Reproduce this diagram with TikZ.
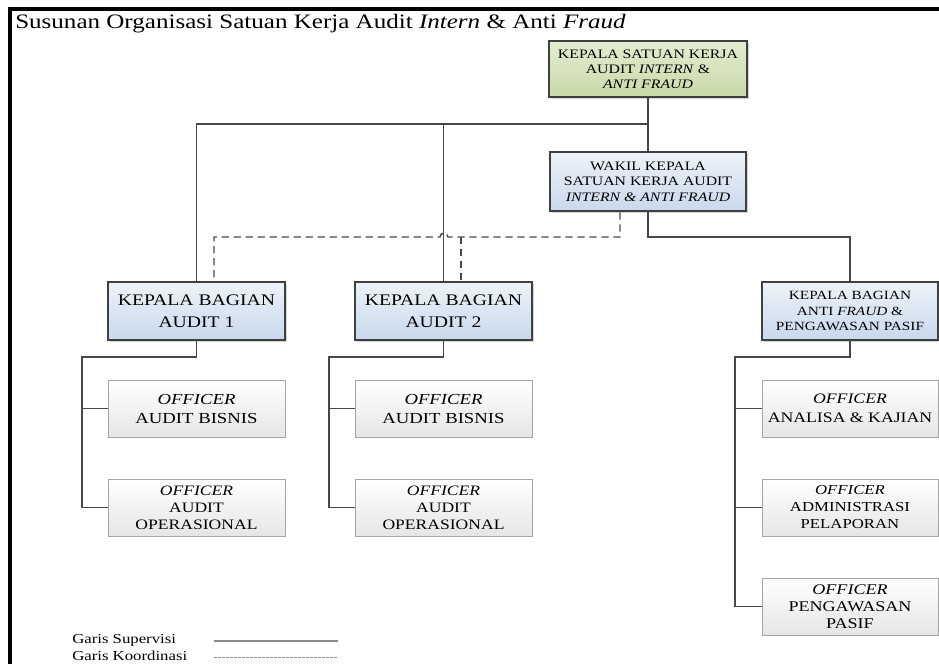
\documentclass[tikz,border=0pt]{standalone}
\usepackage{fontspec}
\setmainfont[FakeStretch=1.22]{Liberation Serif}
\usetikzlibrary{positioning,shadows}
\definecolor{headgreen}{HTML}{D7E4BD}
\definecolor{headgreendark}{HTML}{C9D9A8}
\definecolor{bagianblue}{HTML}{E1EAF4}
\definecolor{bagianbluedark}{HTML}{C8D9EC}
\definecolor{linegray}{HTML}{484848}

\begin{document}
\begin{tikzpicture}[x=0.75pt,y=-0.75pt]
                \tikzstyle{every node}+=[inner sep=0pt, align=center]
                \tikzstyle{kepala}=[draw=black!75, line width=1.9pt, drop shadow={opacity=0.35,shadow xshift=1.2pt,shadow yshift=-1.2pt}]
                \tikzstyle{headbox}=[kepala, top color=headgreen!70, bottom color=headgreendark, minimum width=148.5pt, minimum height=42pt, font=\fontsize{9.7}{11.3}\selectfont]
                \tikzstyle{bagian}=[kepala, top color=bagianblue!60, bottom color=bagianbluedark, minimum width=132.75pt, minimum height=43.5pt]
                \tikzstyle{officer}=[draw=black!35, line width=0.6pt, top color=white, bottom color=black!10, minimum width=132.75pt, minimum height=42.75pt, drop shadow={opacity=0.25,shadow xshift=1pt,shadow yshift=-1pt}]
                \tikzstyle{supervisi}=[draw=linegray, line width=1.1pt]
                \tikzstyle{koordinasi}=[draw=linegray, line width=1.1pt, dash pattern=on 5.5pt off 3.5pt]
                \useasboundingbox (0,0) rectangle (939,664);
                % frame
                \draw [black, line width=2.4pt] (10,664) -- (10,9) -- (939,9);
                \node [anchor=base west, font=\fontsize{15.4}{17}\selectfont] (judul) at (15,28) {Susunan Organisasi Satuan Kerja Audit \textit{Intern} \& Anti \textit{Fraud}};
                % pimpinan
                \node [headbox] (kepala) at (648,69) {KEPALA SATUAN KERJA\\AUDIT \textit{INTERN} \&\\\textit{ANTI FRAUD}};
                \node [bagian, minimum width=147pt, minimum height=44.25pt, font=\fontsize{9.7}{11.5}\selectfont] (wakil) at (648,181.5) {WAKIL KEPALA\\SATUAN KERJA AUDIT\\\textit{INTERN \& ANTI FRAUD}};
                % bagian
                \node [bagian, font=\fontsize{12.1}{16.5}\selectfont] (bagian1) at (196.5,311) {KEPALA BAGIAN\\AUDIT 1};
                \node [bagian, font=\fontsize{12.1}{16.5}\selectfont] (bagian2) at (443.5,311) {KEPALA BAGIAN\\AUDIT 2};
                \node [bagian, minimum width=132pt, font=\fontsize{9.4}{11.5}\selectfont] (bagian3) at (850,311) {KEPALA BAGIAN\\ANTI \textit{FRAUD} \&\\PENGAWASAN PASIF};
                % officer
                \node [officer, font=\fontsize{11.5}{14.25}\selectfont] (bisnis1) at (196.5,408.5) {\textit{OFFICER}\\AUDIT BISNIS};
                \node [officer, font=\fontsize{10.8}{12.75}\selectfont] (operasional1) at (196.5,507.5) {\textit{OFFICER}\\AUDIT\\OPERASIONAL};
                \node [officer, font=\fontsize{11.5}{14.25}\selectfont] (bisnis2) at (443.5,408.5) {\textit{OFFICER}\\AUDIT BISNIS};
                \node [officer, font=\fontsize{10.8}{12.75}\selectfont] (operasional2) at (443.5,507.5) {\textit{OFFICER}\\AUDIT\\OPERASIONAL};
                \node [officer, minimum width=132pt, font=\fontsize{10.9}{14.25}\selectfont] (analisa) at (850,408.5) {\textit{OFFICER}\\ANALISA \& KAJIAN};
                \node [officer, minimum width=132pt, font=\fontsize{10.3}{12.75}\selectfont] (pelaporan) at (850,507.5) {\textit{OFFICER}\\ADMINISTRASI\\PELAPORAN};
                \node [officer, minimum width=132pt, font=\fontsize{11.1}{12.75}\selectfont] (pasif) at (850,606.5) {\textit{OFFICER}\\PENGAWASAN\\PASIF};
                % garis supervisi
                \coordinate (cabang) at (648,124);
                \coordinate (belok3) at (648,237);
                \coordinate (spine1) at (82,357);
                \coordinate (spine2) at (329,357);
                \coordinate (spine3) at (735,357);
                \draw [supervisi] (kepala.south) -- (wakil.north);
                \draw [supervisi] (bagian1.north) |- (cabang);
                \draw [supervisi] (bagian2.north) -- (bagian2.north |- cabang);
                \draw [supervisi] (wakil.south) -- (belok3) -| (bagian3.north);
                \draw [supervisi] (bagian1.south) |- (spine1) |- (operasional1.west);
                \draw [supervisi] (spine1 |- bisnis1.west) -- (bisnis1.west);
                \draw [supervisi] (bagian2.south) |- (spine2) |- (operasional2.west);
                \draw [supervisi] (spine2 |- bisnis2.west) -- (bisnis2.west);
                \draw [supervisi] (bagian3.south) |- (spine3) |- (pasif.west);
                \draw [supervisi] (spine3 |- analisa.west) -- (analisa.west);
                \draw [supervisi] (spine3 |- pelaporan.west) -- (pelaporan.west);
                % garis koordinasi
                \coordinate (koor) at (620,237);
                \draw [koordinasi] (wakil.south -| koor) -- (koor) -- (448,237) arc [start angle=0, end angle=180, radius=3pt] -- (214,237) -- (bagian1.north -| 214,0);
                \draw [koordinasi] (461,237) -- (bagian2.north -| 461,0);
                % keterangan
                \node [anchor=base west, font=\fontsize{10.3}{13}\selectfont] (legsup) at (72,643) {Garis Supervisi};
                \node [anchor=base west, font=\fontsize{10.3}{13}\selectfont] (legkoor) at (72,660) {Garis Koordinasi};
                \draw [black!45, line width=0.9pt] (214,641) -- (338,641);
                \draw [black!45, line width=0.5pt, dash pattern=on 2pt off 1pt] (214,657) -- (338,657);
\end{tikzpicture}
\end{document}
